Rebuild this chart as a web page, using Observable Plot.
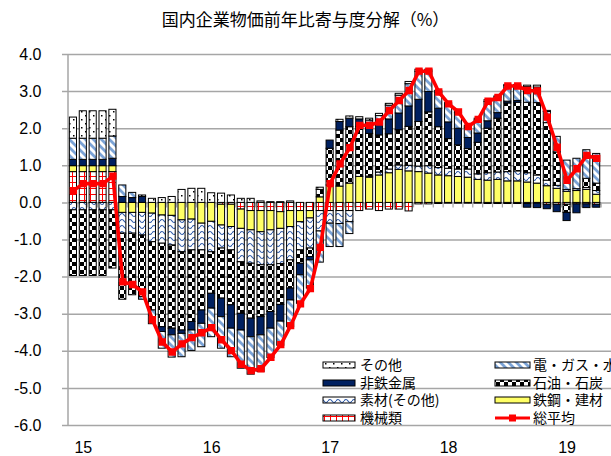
<!DOCTYPE html>
<html><head><meta charset="utf-8">
<script src="https://cdn.jsdelivr.net/npm/d3@7"></script>
<script src="https://cdn.jsdelivr.net/npm/@observablehq/plot@0.6"></script>
<style>
html,body{margin:0;padding:0;background:#fff;}
body{width:611px;height:456px;overflow:hidden;font-family:"Liberation Sans",Arial,sans-serif;}
#title{height:38px;line-height:38px;text-align:center;font-family:"Noto Sans CJK JP",sans-serif;font-size:17px;color:#000;}
</style></head><body>
<div id="title">国内企業物価前年比寄与度分解（%）</div>
<div id="chart"></div>
<script>
// categories: Nov 2014 .. Apr 2019 (54 months) + 1 empty slot
const nMonths = 54;
const yearTicks = [1, 14, 26, 38, 50];
const yearLabels = ["15", "16", "17", "18", "19"];
const yTicks = [-6, -5, -4, -3, -2, -1, 0, 1, 2, 3, 4];

const seriesNames = ["機械類", "鉄鋼・建材", "素材(その他)", "石油・石炭", "非鉄金属", "電・ガス・水", "その他"];

const kikai = [0.83,0.83,0.83,0.83,0.83, 0,0,0,0,0, 0,0,0,0,0, -0.05,-0.05,-0.18,-0.22,-0.22, -0.22,-0.25,-0.22,-0.22,-0.22, -0.22,-0.22,-0.22,-0.22,-0.22, -0.18,-0.22,-0.18,-0.18,-0.23, -0.04,-0.04,-0.03,-0.02,-0.02, -0.02,-0.02,-0.03,-0.03,-0.03, -0.03,-0.03,-0.02,-0.05,-0.05, -0.05,-0.04,-0.04,-0.05];
const tekko = [0.16,0.16,0.16,0.16,0.16, -0.27,-0.27,-0.27,-0.29,-0.34, -0.35,-0.47,-0.45,-0.56,-0.51, -0.56,-0.60,-0.52,-0.52,-0.57, -0.52,-0.45,-0.43,-0.30,-0.20, 0.15,0.47,0.44,0.52,0.70, 0.68,0.74,0.80,0.89,0.85, 0.83,0.79,0.74,0.72,0.70, 0.68,0.62,0.60,0.62,0.58, 0.58,0.55,0.52,0.45,0.38, 0.30,0.32,0.35,0.22];
const sozai = [-0.20,-0.20,-0.20,-0.20,-0.20, -0.56,-0.56,-0.61,-0.77,-0.76, -0.80,-0.86,-0.83,-0.72,-0.82, -0.62,-0.63,-0.90,-0.90,-0.89, -0.94,-0.95,-0.90,-0.76,-0.81, -0.55,-0.34,-0.35,-0.30,0, 0.03,0.08,0.10,0.12,0.15, 0.15,0.20,0.20,0.20,0.20, 0.22,0.15,0.20,0.20,0.25, 0.27,0.25,0.22,0.15,0.08, 0.05,0.05,0.05,0.10];
const sekiyu = [-1.77,-1.77,-1.77,-1.77,-1.57, -1.78,-1.66,-1.66,-1.84,-2.25, -2.24,-2.11,-1.93,-1.62,-1.12, -1.35,-1.48,-1.39,-1.48,-1.40, -1.26,-1.10,-0.76,-0.36,-0.23, 0.20,0.99,1.51,1.52,1.35, 1.15,1.00,0.95,0.95,1.05, 1.20,1.45,1.10,0.80,0.65, 0.55,0.85,1.20,1.45,1.85, 1.85,1.90,1.95,1.55,0.90, -0.22,0,0.25,0.20];
const hitetsu = [0.17,0.17,0.17,0.17,0.20, 0.16,0.13,0.16,0,-0.13, -0.18,-0.09,-0.23,-0.36,-0.40, -0.50,-0.63,-0.45,-0.50,-0.49, -0.45,-0.45,-0.32,-0.31,-0.09, 0,0.22,0.23,0.23,0.20, 0.30,0.30,0.40,0.45,0.55, 0.60,0.55,0.50,0.45,0.45, 0.30,0.25,0.20,0.15,0.05, 0.05,-0.10,-0.12,-0.12,-0.20, -0.22,-0.24,-0.10,-0.08];
const denki = [0.57,0.57,0.57,0.57,0.60, 0.31,0.14,-0.07,-0.37,-0.45, -0.60,-0.63,-0.55,-0.63,-0.77, -0.85,-0.77,-1.03,-1.01,-0.99, -0.79,-0.65,-0.72,-0.77,-0.76, -0.84,-0.63,-0.62,-0.32,0, 0.06,0.22,0.37,0.48,0.60, 0.75,0.55,0.43,0.48,0.42, 0.28,0.35,0.52,0.42,0.42, 0.40,0.42,0.42,0.30,0.42, 0.79,0.82,0.77,0.80];
const sonota = [0.57,0.74,0.74,0.74,0.72, 0,0,0.04,0.11,0.13, 0.16,0.35,0.38,0.38,0.26, 0.25,0.20,0.11,0.11,0.04, 0.02,0.02,0.04,0,0, 0.06,0,0.06,0.06,0.06, 0.05,0.06,0.05,0.05,0.06, 0.06,0.05,0.05,0.04,0.05, 0.05,0.05,0.05,0.03,0.03, 0.03,0.04,0.05,0.03,0, 0,0,0,0];
const total = [0.33,0.52,0.52,0.52,0.72, -2.13,-2.20,-2.40,-3.15,-3.75, -4.02,-3.80,-3.63,-3.50,-3.36, -3.69,-3.98,-4.35,-4.52,-4.47, -4.16,-3.82,-3.31,-2.72,-2.31, -1.20,0.52,1.05,1.49,2.09, 2.09,2.18,2.49,2.76,3.03, 3.55,3.55,2.99,2.67,2.45, 2.06,2.25,2.74,2.84,3.15, 3.15,3.03,3.02,2.31,1.50, 0.61,0.92,1.28,1.20];

(function () {
const seriesValues = [kikai, tekko, sozai, sekiyu, hitetsu, denki, sonota];
const seriesFills = ["url(#p-kikai)", "#ffff66", "url(#p-sozai)", "url(#p-sekiyu)", "#002060", "url(#p-denki)", "url(#p-sonota)"];

const rows = [];
seriesNames.forEach((s, k) => seriesValues[k].forEach((v, i) => { if (v !== 0) rows.push({i, s, v}); }));
const totalRows = total.map((v, i) => ({i, v}));

const W = 611, H = 418;
const plot = Plot.plot({
  width: W, height: H,
  marginLeft: 68, marginRight: 0, marginTop: 16, marginBottom: 31,
  x: {type: "band", domain: d3.range(nMonths + 1), paddingInner: 0.28, paddingOuter: 0.14, align: 0.5, label: null},
  y: {domain: [-6, 4], label: null},
  color: {type: "ordinal", domain: seriesNames, range: seriesFills},
  style: {fontFamily: "'Liberation Sans', Arial, sans-serif", fontSize: "16px", color: "#000", background: "white"},
  marks: [
    Plot.ruleY(yTicks, {stroke: "#a6a6a6", strokeWidth: 1.5, insetLeft: -6}),
    Plot.barY(rows, Plot.stackY({x: "i", y: "v", z: "s", fill: "s", stroke: "#000", strokeWidth: 1})),
    Plot.line(totalRows, {x: "i", y: "v", stroke: "#ff0000", strokeWidth: 3.6}),
    Plot.dot(totalRows, {x: "i", y: "v", symbol: "square", r: 3.3, fill: "#ff0000", stroke: "#ff0000"}),
    Plot.axisY({ticks: yTicks, tickSize: 0, tickPadding: 27, tickFormat: d => d.toFixed(1), fontSize: 16, label: null}),
    Plot.axisX({ticks: yearTicks, tickSize: 0, tickPadding: 16, tickFormat: i => yearLabels[yearTicks.indexOf(i)], fontSize: 16, label: null})
  ]
});

const svg = d3.select(plot);
const defs = svg.insert("defs", ":first-child");
let p = defs.append("pattern").attr("id", "p-sonota").attr("width", 8).attr("height", 8).attr("patternUnits", "userSpaceOnUse");
p.append("rect").attr("width", 8).attr("height", 8).attr("fill", "#fff");
p.append("rect").attr("x", 1).attr("y", 1).attr("width", 1.5).attr("height", 1.5).attr("fill", "#000");
p.append("rect").attr("x", 5).attr("y", 5).attr("width", 1.5).attr("height", 1.5).attr("fill", "#000");
p = defs.append("pattern").attr("id", "p-denki").attr("width", 8).attr("height", 8).attr("patternUnits", "userSpaceOnUse");
p.append("rect").attr("width", 8).attr("height", 8).attr("fill", "#fff");
p.append("path").attr("d", "M-2,-2 L10,10 M-10,-2 L2,10 M6,-2 L18,10").attr("stroke", "#7ba3d6").attr("stroke-width", 2.8);
p = defs.append("pattern").attr("id", "p-sekiyu").attr("width", 8).attr("height", 8).attr("patternUnits", "userSpaceOnUse");
p.append("rect").attr("width", 8).attr("height", 8).attr("fill", "#fff");
p.append("rect").attr("width", 4).attr("height", 4).attr("fill", "#000");
p.append("rect").attr("x", 4).attr("y", 4).attr("width", 4).attr("height", 4).attr("fill", "#000");
p = defs.append("pattern").attr("id", "p-sozai").attr("width", 8).attr("height", 6).attr("patternUnits", "userSpaceOnUse");
p.append("rect").attr("width", 8).attr("height", 6).attr("fill", "#fff");
p.append("path").attr("d", "M0,3 Q2,0 4,3 Q6,6 8,3").attr("fill", "none").attr("stroke", "#2e5aa8").attr("stroke-width", 1.2);
p = defs.append("pattern").attr("id", "p-kikai").attr("width", 6).attr("height", 6).attr("patternUnits", "userSpaceOnUse");
p.append("rect").attr("width", 6).attr("height", 6).attr("fill", "#fff");
p.append("path").attr("d", "M0,0.5 H6 M0.5,0 V6").attr("stroke", "#ff0000").attr("stroke-width", 1);

const xs = plot.scale("x"), ys = plot.scale("y");
const step = (xs.range[1] - xs.range[0]) / xs.domain.length;
const gap = (step - xs.bandwidth) / 2;
const axisG = svg.insert("g", "g[aria-label='bar']");
axisG.append("line").attr("x1", xs.range[0]).attr("x2", xs.range[0]).attr("y1", ys.apply(4)).attr("y2", ys.apply(-6)).attr("stroke", "#a6a6a6").attr("stroke-width", 1.5);
xs.domain.forEach(i => {
  const bx = xs.apply(i) - gap;
  if (i > 0) axisG.append("line").attr("x1", bx).attr("x2", bx).attr("y1", ys.apply(0)).attr("y2", ys.apply(0) + 5).attr("stroke", "#a6a6a6").attr("stroke-width", 1.2);
});

const topOff = 38;
const leg = svg.append("g").attr("font-family", "'Noto Sans CJK JP', sans-serif").attr("font-size", 14).attr("text-anchor", "start");
const legendItems = [
  {name: "その他", fill: "url(#p-sonota)", col: 0, row: 0},
  {name: "電・ガス・水", fill: "url(#p-denki)", col: 1, row: 0},
  {name: "非鉄金属", fill: "#002060", col: 0, row: 1},
  {name: "石油・石炭", fill: "url(#p-sekiyu)", col: 1, row: 1},
  {name: "素材(その他)", fill: "url(#p-sozai)", col: 0, row: 2},
  {name: "鉄鋼・建材", fill: "#ffff66", col: 1, row: 2},
  {name: "機械類", fill: "url(#p-kikai)", col: 0, row: 3},
  {name: "総平均", line: true, col: 1, row: 3}
];
const colX = [323, 495], colW = [32, 35], textX = [360, 533];
const rowY = [365, 383, 400, 418];
legendItems.forEach(d => {
  const y = rowY[d.row] - topOff;
  if (d.line) {
    leg.append("line").attr("x1", colX[d.col]).attr("x2", colX[d.col] + colW[d.col]).attr("y1", y).attr("y2", y).attr("stroke", "#ff0000").attr("stroke-width", 3.2);
    leg.append("rect").attr("x", colX[d.col] + colW[d.col] / 2 - 3.5).attr("y", y - 3.5).attr("width", 7).attr("height", 7).attr("fill", "#ff0000");
  } else {
    leg.append("rect").attr("x", colX[d.col]).attr("y", y - 3).attr("width", colW[d.col]).attr("height", 6).attr("fill", d.fill).attr("stroke", "#000").attr("stroke-width", 1);
  }
  leg.append("text").attr("x", textX[d.col]).attr("y", y).attr("dy", "0.36em").attr("text-anchor", "start").text(d.name);
});

document.getElementById("chart").appendChild(plot);
})();
</script>
</body></html>
